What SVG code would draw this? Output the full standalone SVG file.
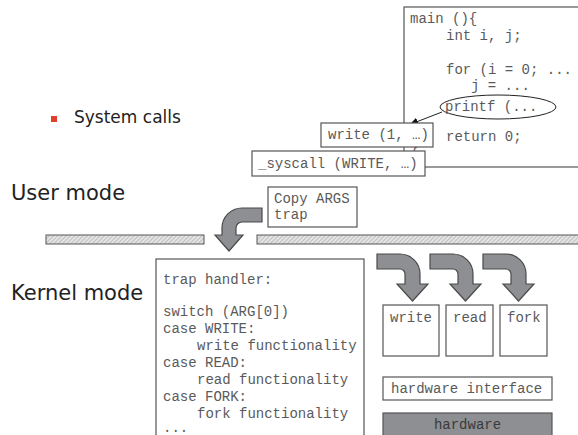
<svg xmlns="http://www.w3.org/2000/svg" width="578" height="435" viewBox="0 0 578 435">
<defs>
<style>
.code{font-family:"Liberation Mono","Courier New",monospace;font-size:14px;fill:#5a5a5a}
.sans{font-family:"DejaVu Sans",Verdana,sans-serif;fill:#222}
.box{fill:#fff;stroke:#555;stroke-width:1.2}
.bar{fill:url(#hatch);stroke:#555;stroke-width:1}
.garrow{fill:#8d8f92;stroke:#4a4a4a;stroke-width:1.2;stroke-linejoin:miter}
.conn{stroke:#222;stroke-width:1;fill:none}
</style>
<pattern id="hatch" width="3" height="3" patternUnits="userSpaceOnUse" patternTransform="rotate(45)">
<rect width="3" height="3" fill="#e4e4e4"/>
<line x1="0" y1="0" x2="0" y2="3" stroke="#a6a6a6" stroke-width="1.2"/>
</pattern>
<marker id="ah" markerWidth="8" markerHeight="8" refX="7" refY="4" orient="auto" markerUnits="userSpaceOnUse">
<path d="M0,0 L8,4 L0,8 Z" fill="#111"/>
</marker>
<path id="karrow" d="M377,254 H400 A20,20 0 0 1 420,274 V284 H428 L412.5,301 L397,284 H405 V274 A5,5 0 0 0 400,269 H377 Z"/>
</defs>
<rect width="578" height="435" fill="#fff"/>

<g id="bullet">
<rect x="51" y="116" width="6" height="6" fill="#e0402a"/>
<text class="sans" x="74" y="123" font-size="17">System calls</text>
</g>

<g id="user-mode"><text class="sans" x="11" y="200" font-size="21">User mode</text></g>
<g id="kernel-mode"><text class="sans" x="11" y="300" font-size="21">Kernel mode</text></g>

<g id="main-code">
<rect class="box" x="404" y="7" width="190" height="160"/>
<text class="code" x="410" y="23">main (){</text>
<text class="code" x="446" y="40">int i, j;</text>
<text class="code" x="446" y="74">for (i = 0; ...</text>
<text class="code" x="471" y="90">j = ...</text>
<ellipse cx="498" cy="107" rx="58" ry="12" fill="#fff" stroke="#222" stroke-width="1"/>
<text class="code" x="445" y="111">printf (...</text>
<text class="code" x="446" y="141">return 0;</text>
<text class="code" x="410" y="152">}</text>
</g>

<g id="connectors">
<line class="conn" x1="442" y1="112" x2="411" y2="124" marker-end="url(#ah)"/>
</g>

<g id="write-call">
<rect class="box" x="321" y="123" width="112" height="24"/>
<text class="code" x="328" y="139">write (1, …)</text>
</g>

<g id="syscall">
<rect class="box" x="252" y="151" width="173" height="25"/>
<text class="code" x="258" y="168">_syscall (WRITE, …)</text>
</g>

<g id="copy-args">
<rect class="box" x="268" y="187" width="89" height="40"/>
<text class="code" x="274" y="203">Copy ARGS</text>
<text class="code" x="274" y="219">trap</text>
</g>

<g id="mode-boundary">
<rect class="bar" x="46" y="235" width="158" height="9"/>
<rect class="bar" x="257" y="235" width="330" height="9"/>
</g>

<g id="trap-arrow">
<path class="garrow" d="M262,208 H242 A20,20 0 0 0 222,228 V235 H215 L229,251 L243,235 H236 V228 A6,6 0 0 1 242,222 H262 Z"/>
</g>

<g id="trap-handler">
<rect class="box" x="156" y="259" width="208" height="190"/>
<text class="code" x="163" y="284">trap handler:</text>
<text class="code" x="163" y="316">switch (ARG[0])</text>
<text class="code" x="163" y="333">case WRITE:</text>
<text class="code" x="197" y="350">write functionality</text>
<text class="code" x="163" y="367">case READ:</text>
<text class="code" x="197" y="384">read functionality</text>
<text class="code" x="163" y="401">case FORK:</text>
<text class="code" x="197" y="418">fork functionality</text>
<text class="code" x="163" y="432">...</text>
</g>

<g id="dispatch-arrows">
<use href="#karrow" class="garrow"/>
<use href="#karrow" class="garrow" transform="translate(53,0)"/>
<use href="#karrow" class="garrow" transform="translate(106,0)"/>
</g>

<g id="write-box">
<rect class="box" x="383" y="305" width="56" height="51"/>
<text class="code" x="390" y="322">write</text>
</g>
<g id="read-box">
<rect class="box" x="446" y="305" width="47" height="51"/>
<text class="code" x="453" y="322">read</text>
</g>
<g id="fork-box">
<rect class="box" x="500" y="305" width="47" height="51"/>
<text class="code" x="507" y="322">fork</text>
</g>

<g id="hw-interface">
<rect class="box" x="383" y="377" width="169" height="23"/>
<text class="code" x="391" y="393">hardware interface</text>
</g>

<g id="hardware">
<rect x="383" y="413" width="169" height="30" fill="#8d8f92" stroke="#555" stroke-width="1.2"/>
<text class="code" x="467.5" y="429" text-anchor="middle" style="fill:#3a3a3a">hardware</text>
</g>
</svg>
